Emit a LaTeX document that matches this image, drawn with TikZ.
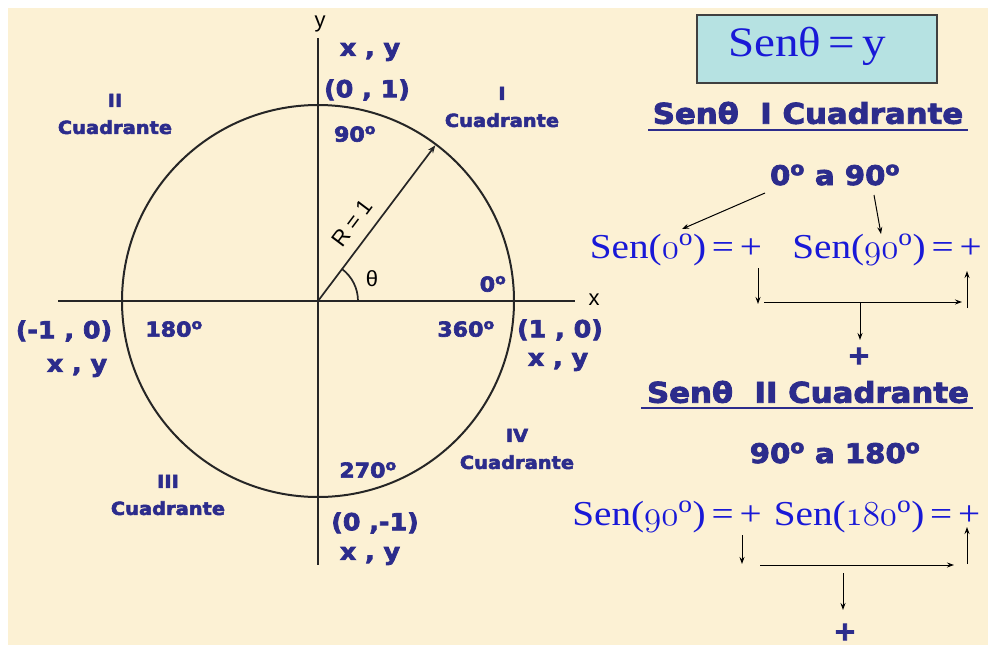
\RequirePackage{fix-cm}
\documentclass[tikz,border=0pt]{standalone}
\usepackage{fontspec}
\setmainfont{Liberation Serif}
\newfontfamily\labf{DejaVu Sans Bold}[FakeStretch=1.08,FakeBold=3]
\newfontfamily\serw{Liberation Serif}[FakeStretch=1.12]
\newfontfamily\plainsans{Liberation Sans}
\usetikzlibrary{arrows.meta,calc}
\definecolor{bg}{RGB}{252,241,212}
\definecolor{navy}{RGB}{44,44,140}
\definecolor{sblue}{RGB}{25,25,215}
\definecolor{boxfill}{RGB}{182,226,226}
\newcommand{\osn}[1]{{\fontencoding{OML}\fontfamily{cmm}\fontseries{m}\fontshape{it}\selectfont #1}}
\newcommand{\dg}{\textsuperscript{o}}
\tikzset{
  lab/.style={text=navy, inner sep=0pt, align=center},
  quadlab/.style={lab, font=\labf\fontsize{18}{27}\selectfont},
  deglab/.style={lab, font=\labf\fontsize{20.5}{22}\selectfont},
  coordlab/.style={lab, font=\labf\fontsize{23.5}{26}\selectfont},
  headlab/.style={lab, font=\labf\fontsize{28.5}{32}\selectfont},
  rangelab/.style={lab, font=\labf\fontsize{27}{30}\selectfont},
  pluslab/.style={lab, font=\labf\fontsize{26}{28}\selectfont},
  serlab/.style={text=sblue, inner sep=0pt, font=\serw\fontsize{35}{38}\selectfont},
  axislab/.style={inner sep=0pt, font=\plainsans\fontsize{22}{24}\selectfont},
  axisline/.style={line width=2pt, black!85},
  thinarrow/.style={line width=1pt, -{Stealth[length=7pt,width=5pt]}},
  uline/.style={line width=2pt, navy}
}
\begin{document}
\begin{tikzpicture}[x=1pt,y=-1pt]
\useasboundingbox (0,0) rectangle (988,645);
\fill[white] (0,0) rectangle (988,645);
\fill[bg] (8,8) rectangle (988,645);

% circle and axes
\coordinate (O) at (318,301);
\coordinate (xl) at (58,301);
\coordinate (xr) at (575,301);
\coordinate (yt) at (318,38);
\coordinate (yb) at (318,565);
\draw[axisline] (xl) -- (xr);
\draw[axisline] (yt) -- (yb);
\draw[axisline] (O) circle[radius=196];
\coordinate (P) at ($(O)+(-53:195)$);
\draw[line width=1.7pt, black!85, -{Stealth[length=8pt,width=6pt]}] (O) -- (P);
\draw[line width=1.7pt, black!85] ($(O)+(40,0)$) arc[start angle=0, end angle=-53, radius=40];
\node[axislab] (th) at (372,279) {θ};
\node[axislab, rotate=53] (R) at (352,223) {R = 1};
\node[axislab] (xlab) at (594,300) {x};
\node[axislab] (ylab) at (320,24) {y};

% quadrant labels
\node[quadlab] (q1) at (502,107) {I\\Cuadrante};
\node[quadlab] (q2) at (115,114) {II\\Cuadrante};
\node[quadlab] (q3) at (168,495) {III\\Cuadrante};
\node[quadlab] (q4) at (517,449) {IV\\Cuadrante};

% degree labels
\node[deglab] (d90) at (355,134) {90\dg};
\node[deglab] (d0) at (493,284) {0\dg};
\node[deglab] (d360) at (466,329) {360\dg};
\node[deglab] (d180) at (174,329) {180\dg};
\node[deglab] (d270) at (368,470) {270\dg};

% coordinate labels
\node[coordlab] (xy1) at (370,52) {x , y};
\node[coordlab] (c01) at (367,90) {(0 , 1)};
\node[coordlab] (c10) at (560,330) {(1 , 0)};
\node[coordlab] (xy2) at (558,362) {x , y};
\node[coordlab] (cm10) at (64,331) {(-1 , 0)};
\node[coordlab] (xy3) at (77,368) {x , y};
\node[coordlab] (c0m1) at (375,523) {(0 ,-1)};
\node[coordlab] (xy4) at (370,556) {x , y};

% right panel
\node[draw=black!75, line width=1.3pt, fill=boxfill, minimum width=240, minimum height=68, inner sep=0pt] (box) at (817,49) {};
\node[text=sblue, inner sep=0pt, font=\serw\fontsize{42}{44}\selectfont] (eq) at (807,46) {Senθ\,=\,y};

\node[headlab] (h1) at (808,113) {Senθ\ \ I Cuadrante};
\draw[uline] (648,130) -- (968,130);
\node[rangelab] (r1) at (835,175) {0\dg{} a 90\dg};
\node[serlab] (s1) at (676,250) {Sen(\osn{0}\dg)\,=\,+};
\node[serlab] (s2) at (887,250) {Sen(\osn{90}\dg)\,=\,+};
\coordinate (a1s) at (765,193);
\coordinate (a1e) at (682,229);
\coordinate (a2s) at (874,195);
\coordinate (a2e) at (881,234);
\draw[thinarrow] (a1s) -- (a1e);
\draw[thinarrow] (a2s) -- (a2e);
\coordinate (b1a) at (758,268); \coordinate (b1b) at (758,304);
\coordinate (b1c) at (764,302); \coordinate (b1d) at (962,302);
\coordinate (b1e) at (967,308); \coordinate (b1f) at (967,271);
\coordinate (b1g) at (860,302); \coordinate (b1h) at (860,340);
\draw[thinarrow] (b1a) -- (b1b);
\draw[thinarrow] (b1c) -- (b1d);
\draw[thinarrow] (b1e) -- (b1f);
\draw[thinarrow] (b1g) -- (b1h);
\node[pluslab] (p1) at (859,356) {+};

\node[headlab] (h2) at (808,392) {Senθ\ \ II Cuadrante};
\draw[uline] (641,408) -- (973,408);
\node[rangelab] (r2) at (835,453) {90\dg{} a 180\dg};
\node[serlab] (s3) at (667,517) {Sen(\osn{90}\dg)\,=\,+};
\node[serlab] (s4) at (877,517) {Sen(\osn{180}\dg)\,=\,+};
\coordinate (b2a) at (742,535); \coordinate (b2b) at (742,564);
\coordinate (b2c) at (760,565); \coordinate (b2d) at (954,565);
\coordinate (b2e) at (967,564); \coordinate (b2f) at (967,527);
\coordinate (b2g) at (843,573); \coordinate (b2h) at (843,610);
\draw[thinarrow] (b2a) -- (b2b);
\draw[thinarrow] (b2c) -- (b2d);
\draw[thinarrow] (b2e) -- (b2f);
\draw[thinarrow] (b2g) -- (b2h);
\node[pluslab] (p2) at (845,632) {+};
\end{tikzpicture}
\end{document}
